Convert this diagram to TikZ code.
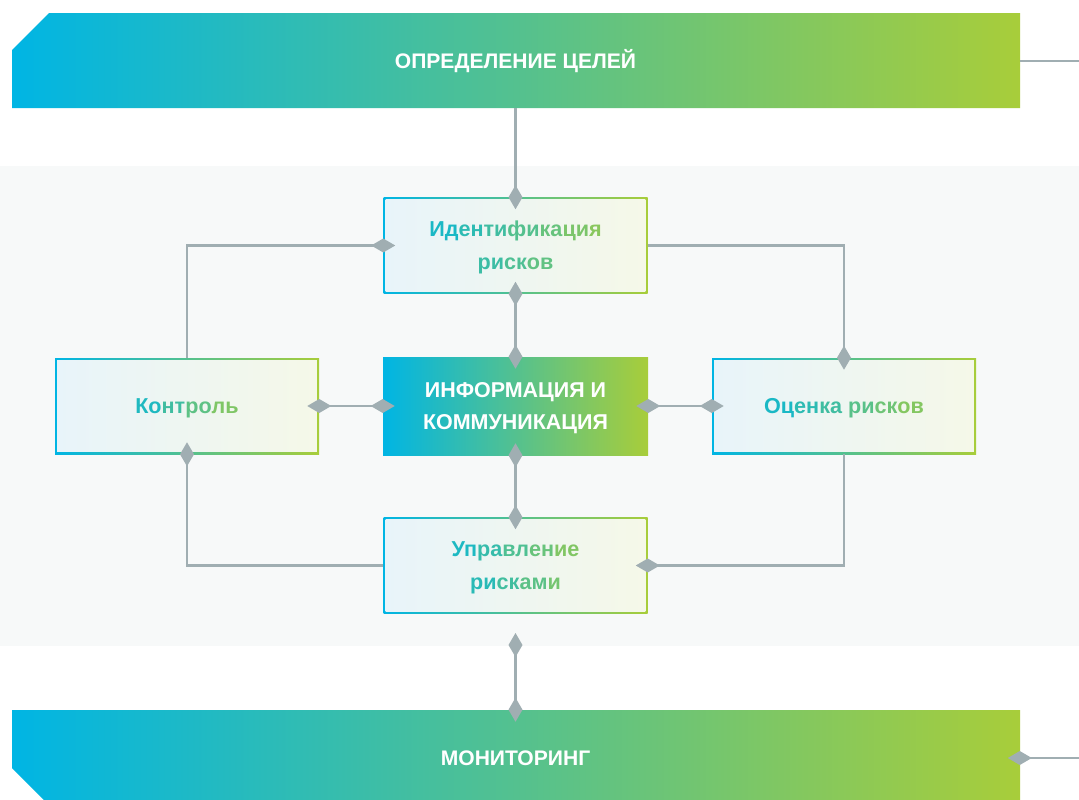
\documentclass[tikz,border=0pt]{standalone}
\usepackage{fontspec}
\setmainfont{Liberation Sans}
\usetikzlibrary{arrows.meta}
\definecolor{gC}{RGB}{0,181,228}
\definecolor{gG}{RGB}{168,205,58}
\definecolor{tC}{RGB}{16,183,206}
\definecolor{tG}{RGB}{142,200,88}
\definecolor{lineGray}{RGB}{160,174,178}
\definecolor{panelBg}{RGB}{247,249,249}
\definecolor{lightL}{RGB}{232,244,250}
\definecolor{lightR}{RGB}{245,248,232}
\newcommand\tg[2]{\textcolor{tG!#1!tC}{#2}}
\tikzset{
  dtip/.tip={Diamond[length=18pt,width=10.5pt,line width=0pt]},
  conn/.style={draw=lineGray, line width=1.8pt},
  dend/.style={-dtip, shorten >=-9pt},
  dstart/.style={dtip-, shorten <=-9pt},
  dboth/.style={dtip-dtip, shorten <=-9pt, shorten >=-9pt},
  lbox/.style={rectangle, inner sep=0pt, minimum width=198pt, minimum height=72pt,
    left color=gC, right color=gG, align=center, text depth=0pt,
    font=\fontsize{16.2}{24.7}\selectfont\bfseries,
    path picture={\shade[left color=lightL,right color=lightR]
      ([xshift=1.6pt,yshift=1.6pt]path picture bounding box.south west) rectangle
      ([xshift=-1.6pt,yshift=-1.6pt]path picture bounding box.north east);}},
  ibox/.style={rectangle, inner sep=0pt, minimum width=198.75pt, minimum height=73.5pt,
    left color=gC, right color=gG, align=center, text=white, text depth=0pt,
    font=\fontsize{16.1}{24}\selectfont\bfseries},
  banner/.style={rectangle, inner sep=0pt, minimum width=756pt, minimum height=72pt,
    text=white, text height=11.3pt, text depth=0pt,
    font=\fontsize{15.8}{18}\selectfont\bfseries},
}
\begin{document}
\begin{tikzpicture}[x=0.75pt,y=-0.75pt]
\useasboundingbox (0,0) rectangle (1079,800);
\fill[white] (0,0) rectangle (1079,800);
% panel
\fill[panelBg] (0,166) rectangle (1079,646);
% banners
\shade[left color=gC,right color=gG] (12,50) -- (49,13) -- (1020,13) -- (1020,108) -- (12,108) -- cycle;
\node[banner, minimum height=71.25pt] (topb) at (515.5,60.5) {ОПРЕДЕЛЕНИЕ ЦЕЛЕЙ};
\shade[left color=gC,right color=gG] (12,710) -- (1020,710) -- (1020,806) -- (50,806) -- (12,768) -- cycle;
\node[banner] (botb) at (515.5,758) {МОНИТОРИНГ};
% boxes
\node[lbox] (ident) at (515.5,245.5) {\tg{8}{Ид}\tg{23}{ен}\tg{38}{ти}\tg{54}{фи}\tg{69}{ка}\tg{85}{ци}\tg{96}{я}\\\tg{35}{ри}\tg{49}{ск}\tg{64}{ов}};
\node[ibox] (info) at (515.5,406) {ИНФОРМАЦИЯ И\\КОММУНИКАЦИЯ};
\node[lbox, text height=11.6pt] (kontrol) at (187,406) {\tg{12}{Ко}\tg{38}{нт}\tg{62}{ро}\tg{88}{ль}};
\node[lbox, text height=11.6pt] (ocenka) at (844,406) {\tg{8}{Оц}\tg{23}{ен}\tg{38}{ка} \tg{58}{ри}\tg{75}{ск}\tg{92}{ов}};
\node[lbox] (uprav) at (515.5,565.5) {\tg{10}{Уп}\tg{30}{ра}\tg{50}{вл}\tg{70}{ен}\tg{90}{ие}\\\tg{20}{ри}\tg{40}{ск}\tg{60}{ам}\tg{80}{и}};
% connectors
\draw[conn,dend] (ident.north |- topb.south) -- (ident.north);
\draw[conn,dboth] (ident.south) -- (info.north);
\draw[conn,dend] (kontrol.north) |- (ident.west);
\draw[conn,dend] (ident.east) -| (ocenka.north);
\draw[conn,dboth] (info.west) -- (kontrol.east);
\draw[conn,dboth] (info.east) -- (ocenka.west);
\draw[conn,dboth] (info.south) -- (uprav.north);
\draw[conn,dend] (ocenka.south) |- (uprav.east);
\draw[conn,dend] (uprav.west) -| (kontrol.south);
\coordinate (pb) at (515.5,645);
\draw[conn,dboth] (pb) -- (botb.north -| pb);
\coordinate (tr) at (1079,61);
\draw[conn] (topb.east |- tr) -- (tr);
\coordinate (br) at (1079,758);
\draw[conn,dstart] (botb.east |- br) -- (br);
\end{tikzpicture}
\end{document}
